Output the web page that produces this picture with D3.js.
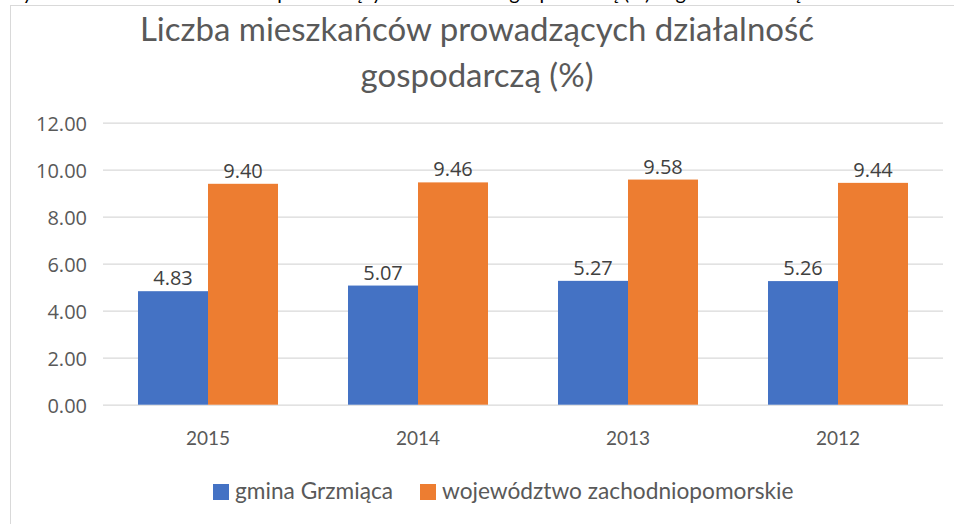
<!DOCTYPE html>
<html>
<head>
<meta charset="utf-8">
<script src="https://cdn.jsdelivr.net/npm/d3@7"></script>
<style>
  body { margin: 0; background: #fff; }
  svg { display: block; }
</style>
</head>
<body>
<div id="chart"></div>
<script>
const years = ["2015", "2014", "2013", "2012"];
const gmina = [4.83, 5.07, 5.27, 5.26];
const wojewodztwo = [9.40, 9.46, 9.58, 9.44];
const seriesNames = ["gmina Grzmiąca", "województwo zachodniopomorskie"];
const yTicks = [0, 2, 4, 6, 8, 10, 12];
const titleLines = ["Liczba mieszkańców prowadzących działalność", "gospodarczą (%)"];
const captionAbove = "Wykres 7. Liczba mieszkańców prowadzących działalność gospodarczą (%) w gminie Grzmiąca";

const W = 954, H = 524;
const margin = {top: 122.7, right: 11, bottom: 119.3, left: 103},
      width = W - margin.left - margin.right,
      height = H - margin.top - margin.bottom;

const colors = ["#4472C4", "#ED7D31"];
const textGray = "#595959";
const gridGray = "#D9D9D9";

const svgRoot = d3.select("#chart")
                  .append("svg")
                  .attr("width", W)
                  .attr("height", H);

// caption of the document, cut off by the screenshot
svgRoot.append("text")
       .attr("x", 2)
       .attr("y", 0)
       .style("font-family", "Lato, sans-serif")
       .style("font-size", "20px")
       .attr("fill", "#000")
       .text(captionAbove);

// chart frame (runs past right and bottom edges)
svgRoot.append("rect")
       .attr("x", 10.5)
       .attr("y", 5.5)
       .attr("width", W + 20)
       .attr("height", H + 20)
       .attr("fill", "#fff")
       .attr("stroke", gridGray);

svgRoot.append("g")
       .selectAll("text")
       .data(titleLines)
       .enter()
       .append("text")
       .attr("x", 477)
       .attr("y", (d, i) => 41 + i * 45.5)
       .attr("text-anchor", "middle")
       .style("font-family", "Lato, sans-serif")
       .style("font-weight", 400)
       .style("font-size", "33px")
       .attr("fill", textGray)
       .text(d => d);

const svg = svgRoot.append("g")
                   .attr("transform", `translate(${margin.left},${margin.top})`);

const x0 = d3.scaleBand()
             .domain(years)
             .range([0, width])
             .paddingInner(1 / 3)
             .paddingOuter(1 / 6);

const x1 = d3.scaleBand()
             .domain(seriesNames)
             .range([0, x0.bandwidth()]);

const y = d3.scaleLinear()
            .domain([0, 12])
            .range([height, 0]);

// gridlines
svg.append("g")
   .selectAll("line")
   .data(yTicks)
   .enter()
   .append("line")
   .attr("x1", 0)
   .attr("x2", width)
   .attr("y1", d => Math.round(y(d)) + 0.5)
   .attr("y2", d => Math.round(y(d)) + 0.5)
   .attr("stroke", gridGray)
   .attr("stroke-width", 1.3);

// y axis labels
const yAxis = svg.append("g")
                 .attr("transform", "translate(-13,0)")
                 .call(d3.axisLeft(y).tickValues(yTicks).tickFormat(d3.format(".2f")).tickSize(0));
yAxis.select(".domain").remove();
yAxis.selectAll("text")
     .attr("dy", "0.4em")
     .style("font-family", "'Open Sans', sans-serif")
     .style("font-size", "20px")
     .attr("fill", textGray);

// x axis labels
const xAxis = svg.append("g")
                 .attr("transform", `translate(0,${height})`)
                 .call(d3.axisBottom(x0).tickSize(0));
xAxis.select(".domain").remove();
xAxis.selectAll("text")
     .attr("dy", "0")
     .attr("y", 40)
     .style("font-family", "Lato, sans-serif")
     .style("font-size", "19px")
     .attr("fill", textGray);

const data = years.map((yr, i) => ({
  year: yr,
  values: [
    {name: seriesNames[0], value: gmina[i], idx: 0},
    {name: seriesNames[1], value: wojewodztwo[i], idx: 1}
  ]
}));

const groups = svg.selectAll(".grp")
                  .data(data)
                  .enter()
                  .append("g")
                  .attr("class", "grp")
                  .attr("transform", d => `translate(${x0(d.year)},0)`);

groups.selectAll("rect")
      .data(d => d.values)
      .enter()
      .append("rect")
      .attr("x", d => x1(d.name))
      .attr("y", d => y(d.value))
      .attr("width", x1.bandwidth())
      .attr("height", d => height - y(d.value))
      .attr("fill", d => colors[d.idx]);

groups.selectAll(".label")
      .data(d => d.values)
      .enter()
      .append("text")
      .attr("class", "label")
      .attr("x", d => x1(d.name) + x1.bandwidth() / 2)
      .attr("y", d => y(d.value) - 6)
      .attr("text-anchor", "middle")
      .style("font-family", "'Open Sans', sans-serif")
      .style("font-size", "20px")
      .attr("fill", "#404040")
      .text(d => d3.format(".2f")(d.value));

// legend
const legendX = [213, 420];
const legend = svgRoot.append("g")
                      .selectAll("g")
                      .data(seriesNames)
                      .enter()
                      .append("g")
                      .attr("transform", (d, i) => `translate(${legendX[i]},484)`);

legend.append("rect")
      .attr("width", 16)
      .attr("height", 16)
      .attr("fill", (d, i) => colors[i]);

legend.append("text")
      .attr("x", 22)
      .attr("y", 15)
      .style("font-family", "Lato, sans-serif")
      .style("font-size", "22.7px")
      .attr("fill", textGray)
      .text(d => d);
</script>
</body>
</html>
